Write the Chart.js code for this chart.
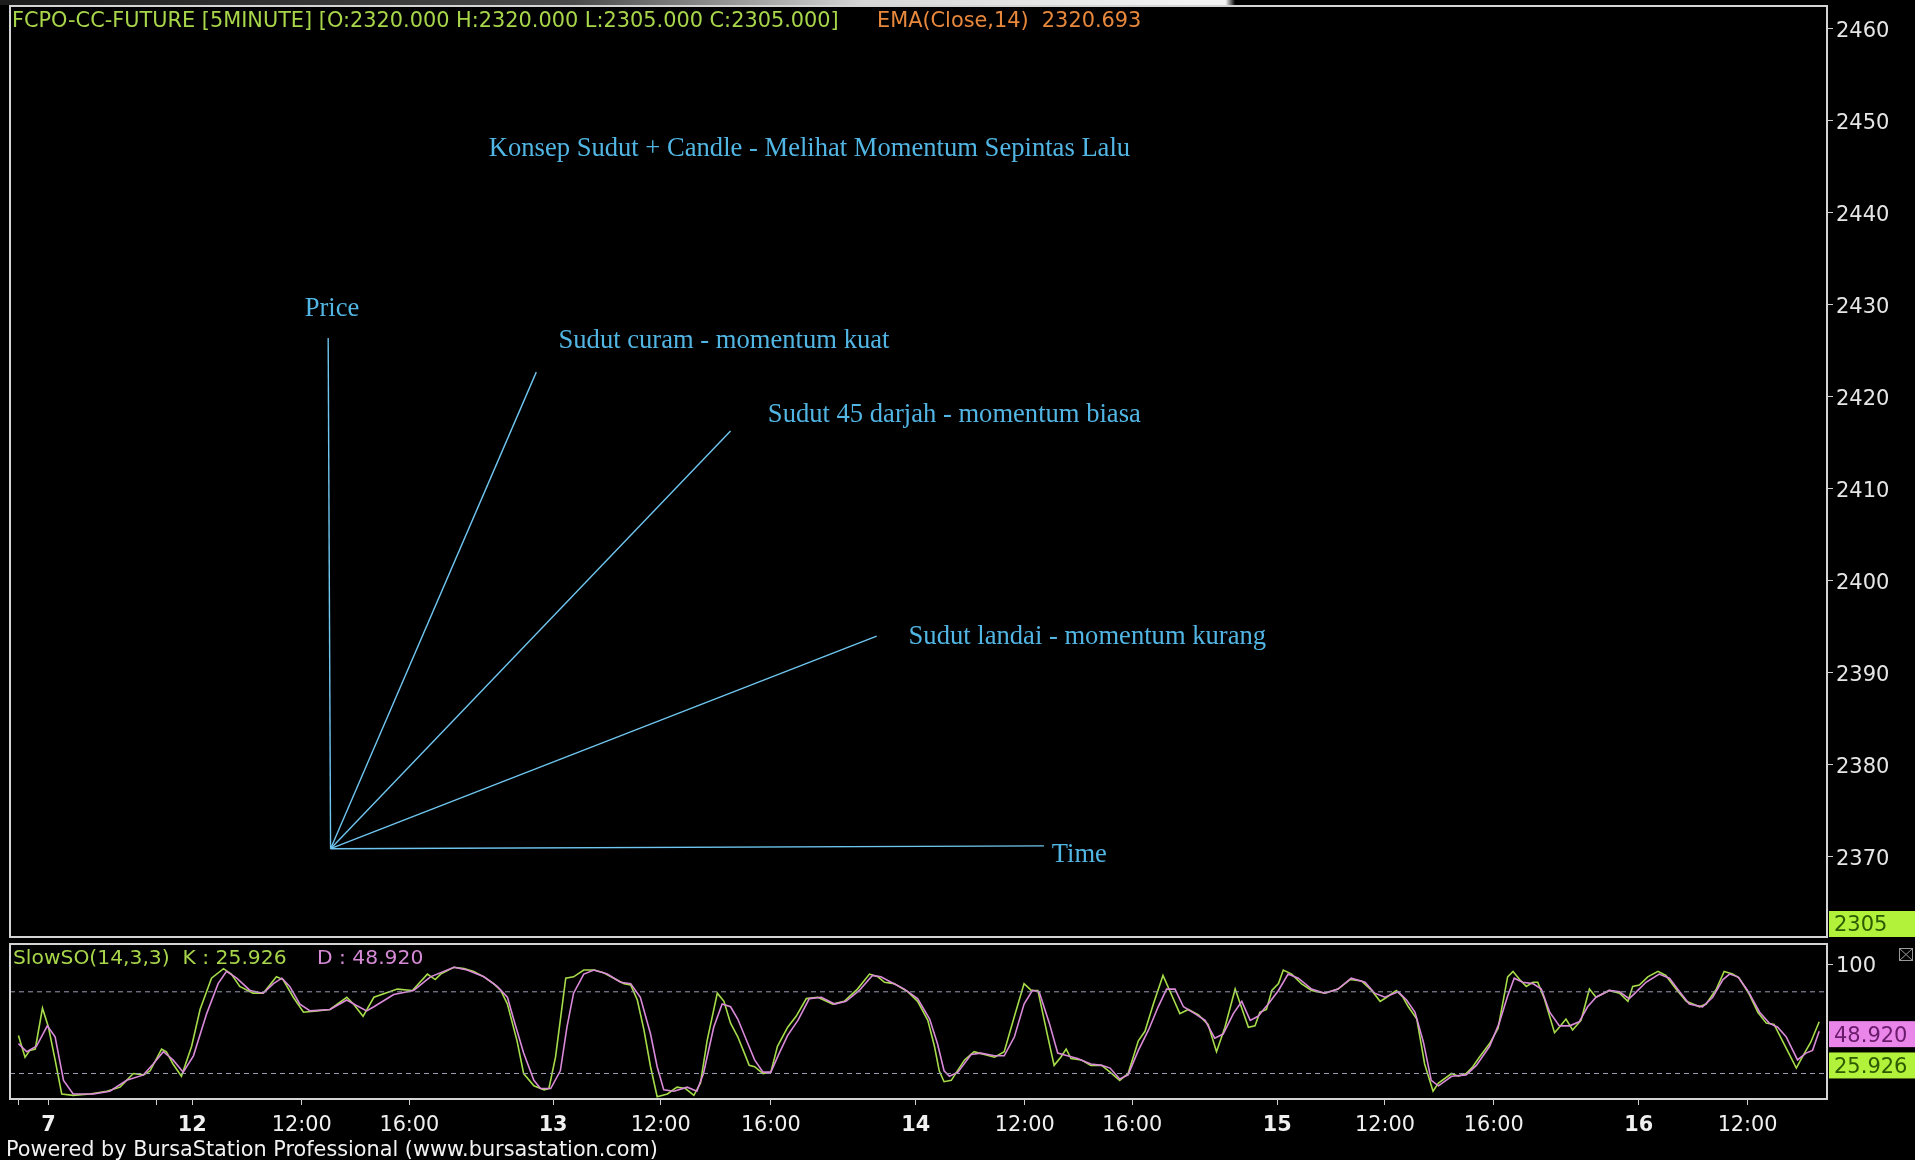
<!DOCTYPE html>
<html>
<head>
<meta charset="utf-8">
<style>
  html, body { margin: 0; padding: 0; background: #000; }
  #wrap { position: relative; width: 1915px; height: 1160px; background: #000; overflow: hidden; }
  #mainChart { position: absolute; left: 0; top: 0; }
  #stochChart { position: absolute; left: 0; top: 940px; }
</style>
<script src="https://cdn.jsdelivr.net/npm/chart.js"></script>
</head>
<body>
<div id="wrap">
  <canvas id="mainChart" width="1915" height="940"></canvas>
  <canvas id="stochChart" width="1915" height="220"></canvas>
</div>
<script>
// ---- price panel ----
const priceTicks = [2370, 2380, 2390, 2400, 2410, 2420, 2430, 2440, 2450, 2460];
const priceRange = [2361.3, 2462.5];
const barRange = [0, 302.1];           // 5-minute bars shown
const lastClose = 2305;

// drawn angle lines: all start at one origin
const originBar = 53.3, originPrice = 2370.9;
const rayNames = ['Price', 'Time', 'Sudut curam', 'Sudut 45 darjah', 'Sudut landai'];
const rayEndBars = [52.9, 171.9, 87.5, 119.8, 144.1];
const rayEndPrices = [2426.4, 2371.2, 2422.7, 2416.3, 2394.0];

const noteTexts = [
  'Konsep Sudut + Candle - Melihat Momentum Sepintas Lalu',
  'Price',
  'Sudut curam - momentum kuat',
  'Sudut 45 darjah - momentum biasa',
  'Sudut landai - momentum kurang',
  'Time'
];
const noteBars = [79.6, 49.0, 91.2, 126.0, 149.4, 173.2];
const notePrices = [2447.0, 2429.6, 2426.1, 2418.0, 2393.9, 2370.2];

// ---- time axis ----
const timeTickBars = [1.4, 6.4, 24.3, 30.3, 48.5, 66.4, 90.3, 108.2, 126.5, 150.6, 168.7, 186.6, 210.7, 228.6, 246.7, 270.8, 288.9];
const timeTickLabels = ['', '7', '', '12', '12:00', '16:00', '13', '12:00', '16:00', '14', '12:00', '16:00', '15', '12:00', '16:00', '16', '12:00'];

// ---- SlowSO(14,3,3) ----
const stochRange = [1.3, 115.1];
const stochTicks = [100];
const stochLevels = [20, 80];
const kLast = 25.926, dLast = 48.920;

const kBars = [1.4, 2.5, 3.3, 4.2, 5.4, 6.4, 7.5, 8.6, 10.5, 13.3, 16.1, 18.3, 20.5, 22.2, 23.3, 25.2, 26.0, 27.1, 28.5, 30.2,
  31.6, 33.5, 35.5, 36.8, 38.2, 40.4, 42.1, 44.3, 45.4, 47.1, 48.8, 51.0, 53.2, 56.0, 57.1, 58.7, 60.5, 64.4, 66.9, 69.4,
  70.7, 71.6, 73.8, 75.5, 77.1, 78.8, 80.4, 81.6, 82.7, 84.3, 85.4, 87.1, 88.8, 89.6, 90.7, 92.4, 93.7, 95.4, 97.1, 98.7,
  100.4, 102.1, 103.2, 104.3, 105.4, 106.5, 107.6, 109.3, 110.9, 112.3, 113.7, 114.8, 115.9, 117.6, 118.7, 119.8, 121.0, 122.1, 122.9, 123.8,
  125.2, 126.5, 127.6, 129.3, 130.7, 132.4, 134.3, 136.8, 138.7, 140.9, 142.9, 144.3, 145.4, 147.0, 149.3, 150.9, 152.6, 153.7, 154.5, 155.3,
  156.5, 158.7, 160.3, 162.0, 163.7, 165.3, 167.0, 168.6, 169.8, 170.9, 172.5, 173.6, 174.7, 175.6, 176.4, 178.1, 179.7, 181.5, 182.9, 184.5,
  185.9, 187.6, 188.7, 190.1, 191.7, 193.1, 194.5, 195.9, 197.6, 199.2, 200.6, 202.0, 203.7, 204.8, 205.9, 207.0, 207.8, 208.9, 209.8, 210.9,
  211.7, 213.1, 214.7, 216.4, 218.6, 220.8, 222.8, 224.7, 226.4, 227.8, 228.9, 230.5, 231.6, 232.5, 233.9, 235.2, 236.6, 237.5, 239.7, 240.8,
  242.1, 243.2, 244.3, 246.0, 247.4, 248.5, 249.0, 249.9, 251.0, 252.1, 253.2, 254.0, 255.1, 256.8, 257.6, 258.7, 259.8, 261.2, 262.6, 263.7,
  265.9, 267.6, 269.0, 269.8, 270.9, 272.3, 274.0, 275.3, 277.0, 278.7, 280.9, 282.0, 283.7, 285.0, 286.4, 287.5, 289.2, 290.6, 292.0, 293.3,
  294.7, 297.0, 298.1, 299.4, 300.8];
const kVals = [48, 32, 37, 38, 68, 54, 30, 5, 4, 5, 7, 10, 20, 19, 22, 38, 36, 27, 18, 40,
  67, 90, 97, 93, 84, 79, 79, 91, 89, 76, 65, 66, 67, 76, 71, 62, 76, 82, 81, 93,
  89, 93, 98, 97, 95, 91, 86, 81, 71, 44, 20, 11, 8, 9, 32, 90, 91, 96, 96, 94,
  90, 86, 85, 74, 52, 25, 3, 5, 10, 9, 4, 13, 44, 79, 73, 57, 47, 35, 26, 25,
  20, 21, 40, 54, 62, 75, 76, 71, 73, 82, 93, 91, 87, 86, 80, 73, 59, 40, 22, 14,
  15, 30, 36, 34, 32, 36, 62, 86, 81, 81, 48, 26, 32, 38, 31, 30, 26, 26, 21, 15,
  20, 44, 51, 71, 92, 78, 64, 67, 63, 56, 36, 54, 82, 68, 54, 55, 65, 67, 81, 86,
  96, 93, 86, 81, 79, 82, 89, 88, 81, 73, 76, 81, 76, 69, 60, 27, 7, 13, 20, 18,
  20, 25, 32, 42, 53, 79, 91, 95, 89, 84, 87, 87, 75, 50, 54, 60, 52, 59, 82, 76,
  81, 79, 73, 84, 85, 91, 95, 92, 82, 73, 69, 71, 82, 95, 93, 90, 78, 65, 57, 56,
  44, 24, 33, 43, 58];

const dBars = [1.4, 2.8, 4.4, 6.2, 7.5, 8.9, 10.5, 13.9, 16.6, 19.4, 22.2, 23.8, 25.5, 27.1, 28.8, 30.5, 32.7, 34.6, 36.0, 37.7,
  39.9, 42.1, 43.8, 45.2, 46.5, 48.2, 49.9, 53.2, 56.0, 57.6, 59.3, 60.5, 63.8, 67.1, 69.9, 73.8, 76.0, 78.8, 81.0, 82.7,
  83.8, 85.4, 87.1, 88.2, 89.9, 91.5, 92.6, 93.7, 95.4, 97.1, 99.3, 101.5, 103.2, 104.8, 106.5, 107.6, 108.7, 110.4, 112.6, 114.2,
  115.3, 117.0, 118.4, 119.8, 121.0, 122.4, 123.8, 125.2, 126.5, 127.9, 129.3, 131.0, 132.9, 134.9, 137.1, 139.0, 141.2, 143.4, 144.8, 146.5,
  148.7, 150.9, 152.9, 154.2, 155.3, 156.2, 157.6, 159.8, 161.4, 163.7, 165.3, 167.0, 168.6, 170.0, 171.1, 172.8, 174.2, 175.8, 177.5, 179.7,
  181.5, 182.9, 184.5, 185.9, 187.6, 189.3, 190.9, 192.3, 193.7, 195.1, 197.0, 198.7, 200.3, 201.7, 203.4, 204.8, 206.2, 207.5, 209.2, 210.9,
  212.5, 214.2, 216.4, 218.6, 220.8, 223.0, 225.3, 226.9, 228.6, 230.8, 232.2, 233.6, 235.0, 236.3, 237.5, 239.7, 242.1, 243.8, 246.0, 247.6,
  249.0, 250.1, 251.5, 253.2, 254.6, 256.0, 257.6, 259.3, 260.9, 262.3, 263.7, 265.9, 267.6, 269.2, 270.4, 272.0, 274.2, 275.9, 277.6, 279.2,
  281.4, 283.1, 284.8, 285.9, 287.3, 288.9, 290.9, 292.5, 293.9, 295.3, 297.2, 298.6, 299.7, 300.8];
const dVals = [42, 36, 40, 55, 47, 15, 5, 5, 7, 15, 19, 27, 36, 30, 21, 33, 64, 86, 95, 90,
  81, 79, 86, 90, 84, 71, 66, 67, 74, 70, 66, 69, 78, 81, 91, 98, 96, 91, 84, 76,
  59, 35, 15, 9, 9, 22, 54, 79, 93, 96, 93, 87, 86, 76, 49, 25, 8, 7, 10, 7,
  20, 54, 71, 69, 60, 45, 30, 21, 21, 35, 48, 59, 75, 76, 71, 73, 81, 92, 91, 87,
  82, 75, 60, 42, 22, 18, 21, 34, 35, 33, 33, 47, 71, 81, 80, 57, 35, 33, 31, 27,
  26, 24, 16, 19, 37, 52, 69, 82, 82, 69, 64, 59, 46, 49, 64, 73, 59, 62, 71, 81,
  93, 90, 82, 79, 82, 90, 87, 79, 76, 80, 74, 65, 43, 15, 11, 18, 19, 26, 40, 57,
  77, 90, 87, 86, 82, 65, 55, 55, 58, 69, 76, 81, 80, 75, 80, 87, 93, 90, 80, 71,
  69, 76, 89, 93, 91, 81, 65, 57, 54, 47, 30, 35, 37, 51];

const UI = 'DejaVu Sans';
const SERIF = 'Liberation Serif';

function fixedTicks(values) {
  return scale => { scale.ticks = values.map(v => ({ value: v })); };
}
function rightAxisFit(scale) {
  scale.width = 88; scale.paddingTop = 0; scale.paddingBottom = 0;
}

function valueBox(ctx, x, yMid, text, bg, fg) {
  ctx.fillStyle = bg;
  ctx.fillRect(x, yMid - 13, 1915 - x, 26);
  ctx.fillStyle = fg;
  ctx.font = '21px ' + UI;
  ctx.textBaseline = 'middle';
  ctx.textAlign = 'left';
  ctx.fillText(text, x + 5, yMid + 2);
}

const mainDecor = {
  id: 'mainDecor',
  beforeDraw(chart) {
    const { ctx, width, height } = chart;
    ctx.save();
    ctx.fillStyle = '#000';
    ctx.fillRect(0, 0, width, height);
    const g = ctx.createLinearGradient(0, 0, width, 0);
    g.addColorStop(0, '#1c1c1c');
    g.addColorStop(0.3, '#4a4a4a');
    g.addColorStop(0.45, '#d6d6d6');
    g.addColorStop(0.62, '#f2f2f2');
    g.addColorStop(0.64, '#f2f2f2');
    g.addColorStop(0.645, '#000');
    ctx.fillStyle = g;
    ctx.fillRect(0, 0, width, 5);
    ctx.restore();
  },
  afterDatasetsDraw(chart) {
    const { ctx, scales } = chart;
    ctx.save();
    ctx.font = '26.6px ' + SERIF;
    ctx.fillStyle = '#52b6e4';
    ctx.textAlign = 'left';
    ctx.textBaseline = 'middle';
    noteTexts.forEach((t, i) => {
      ctx.fillText(t, scales.x.getPixelForValue(noteBars[i]), scales.y.getPixelForValue(notePrices[i]));
    });
    ctx.restore();
  },
  afterDraw(chart) {
    const { ctx, chartArea: a, scales } = chart;
    ctx.save();
    ctx.strokeStyle = '#d4d4d4';
    ctx.lineWidth = 2;
    ctx.strokeRect(a.left, a.top, a.right - a.left, a.bottom - a.top);
    ctx.font = '20.85px ' + UI;
    ctx.textBaseline = 'middle';
    ctx.fillStyle = '#a8d64a';
    ctx.fillText('FCPO-CC-FUTURE [5MINUTE] [O:2320.000 H:2320.000 L:2305.000 C:2305.000]', 12, 21.5);
    ctx.fillStyle = '#e8883c';
    ctx.fillText('EMA(Close,14)  2320.693', 877, 21.5);
    // last close sits below the visible range: pinned at the bottom edge
    const yClose = Math.min(scales.y.getPixelForValue(lastClose), a.bottom - 13);
    valueBox(ctx, a.right + 2, yClose, String(lastClose), '#b2f23a', '#2d5a00');
    ctx.restore();
  }
};

new Chart(document.getElementById('mainChart'), {
  type: 'line',
  data: {
    datasets: rayEndBars.map((b, i) => ({
      label: rayNames[i],
      data: [{ x: originBar, y: originPrice }, { x: b, y: rayEndPrices[i] }],
      borderColor: '#6fc6f0',
      borderWidth: 1.4,
      pointRadius: 0,
      tension: 0
    }))
  },
  options: {
    responsive: false,
    animation: false,
    events: [],
    layout: { padding: { left: 10, top: 6, right: 0, bottom: 3 } },
    plugins: { legend: { display: false }, tooltip: { enabled: false } },
    scales: {
      x: { type: 'linear', min: barRange[0], max: barRange[1], display: false },
      y: {
        position: 'right',
        min: priceRange[0],
        max: priceRange[1],
        afterBuildTicks: fixedTicks(priceTicks),
        afterFit: rightAxisFit,
        grid: { drawOnChartArea: false, tickLength: 6, color: '#cfcfcf' },
        border: { display: false },
        ticks: { color: '#e6e6e6', padding: 3, labelOffset: 2.5, font: { family: UI, size: 21 }, callback: v => String(v) }
      }
    }
  },
  plugins: [mainDecor]
});

const stochDecor = {
  id: 'stochDecor',
  beforeDraw(chart) {
    const { ctx, width, height } = chart;
    ctx.save();
    ctx.fillStyle = '#000';
    ctx.fillRect(0, 0, width, height);
    ctx.restore();
  },
  afterDraw(chart) {
    const { ctx, chartArea: a, scales } = chart;
    ctx.save();
    ctx.strokeStyle = '#d4d4d4';
    ctx.lineWidth = 2;
    ctx.strokeRect(a.left, a.top, a.right - a.left, a.bottom - a.top);
    ctx.font = '20.3px ' + UI;
    ctx.textBaseline = 'middle';
    ctx.fillStyle = '#a8d64a';
    ctx.fillText('SlowSO(14,3,3)  K : ' + kLast.toFixed(3), 13, 18.5);
    ctx.fillStyle = '#d68ad6';
    ctx.fillText('D : ' + dLast.toFixed(3), 317, 18.5);
    valueBox(ctx, a.right + 2, scales.y.getPixelForValue(dLast), dLast.toFixed(3), '#ea86ea', '#6a1a6a');
    valueBox(ctx, a.right + 2, scales.y.getPixelForValue(kLast), kLast.toFixed(3), '#b2f23a', '#2d5a00');
    // small close box icon
    ctx.strokeStyle = '#9a9a9a';
    ctx.lineWidth = 1;
    ctx.strokeRect(1899.5, 8.5, 13, 12);
    ctx.beginPath();
    ctx.moveTo(1899.5, 8.5); ctx.lineTo(1912.5, 20.5);
    ctx.moveTo(1912.5, 8.5); ctx.lineTo(1899.5, 20.5);
    ctx.stroke();
    ctx.font = '20.8px ' + UI;
    ctx.fillStyle = '#f2f2f2';
    ctx.fillText('Powered by BursaStation Professional (www.bursastation.com)', 6, 211);
    ctx.restore();
  }
};

new Chart(document.getElementById('stochChart'), {
  type: 'line',
  data: {
    datasets: [
      ...stochLevels.map(v => ({
        label: 'level ' + v,
        data: [{ x: barRange[0], y: v }, { x: barRange[1], y: v }],
        borderColor: '#9c9cb4',
        borderWidth: 1,
        borderDash: [5, 4],
        pointRadius: 0
      })),
      {
        label: 'D',
        data: dBars.map((b, i) => ({ x: b, y: dVals[i] })),
        borderColor: '#d98ad9',
        borderWidth: 1.6,
        pointRadius: 0,
        tension: 0
      },
      {
        label: 'K',
        data: kBars.map((b, i) => ({ x: b, y: kVals[i] })),
        borderColor: '#a6dc4a',
        borderWidth: 1.6,
        pointRadius: 0,
        tension: 0
      }
    ]
  },
  options: {
    responsive: false,
    animation: false,
    events: [],
    layout: { padding: { left: 10, top: 4, right: 0, bottom: 0 } },
    plugins: { legend: { display: false }, tooltip: { enabled: false } },
    scales: {
      x: {
        type: 'linear',
        min: barRange[0],
        max: barRange[1],
        afterBuildTicks: fixedTicks(timeTickBars),
        afterFit: s => { s.height = 61; s.paddingLeft = 0; s.paddingRight = 0; },
        grid: { drawOnChartArea: false, tickLength: 6, color: '#d0d0d0' },
        border: { display: false },
        ticks: {
          autoSkip: false,
          maxRotation: 0,
          padding: 8.5,
          color: '#f0f0f0',
          callback: (v, i) => timeTickLabels[i],
          font: c => ({
            family: UI,
            size: 20.8,
            weight: (timeTickLabels[c.index] || '').includes(':') ? 'normal' : 'bold'
          })
        }
      },
      y: {
        position: 'right',
        min: stochRange[0],
        max: stochRange[1],
        afterBuildTicks: fixedTicks(stochTicks),
        afterFit: rightAxisFit,
        grid: { drawOnChartArea: false, tickLength: 6, color: '#cfcfcf' },
        border: { display: false },
        ticks: { color: '#e6e6e6', padding: 3, labelOffset: 2, font: { family: UI, size: 21 }, callback: v => String(v) }
      }
    }
  },
  plugins: [stochDecor]
});
</script>
</body>
</html>
